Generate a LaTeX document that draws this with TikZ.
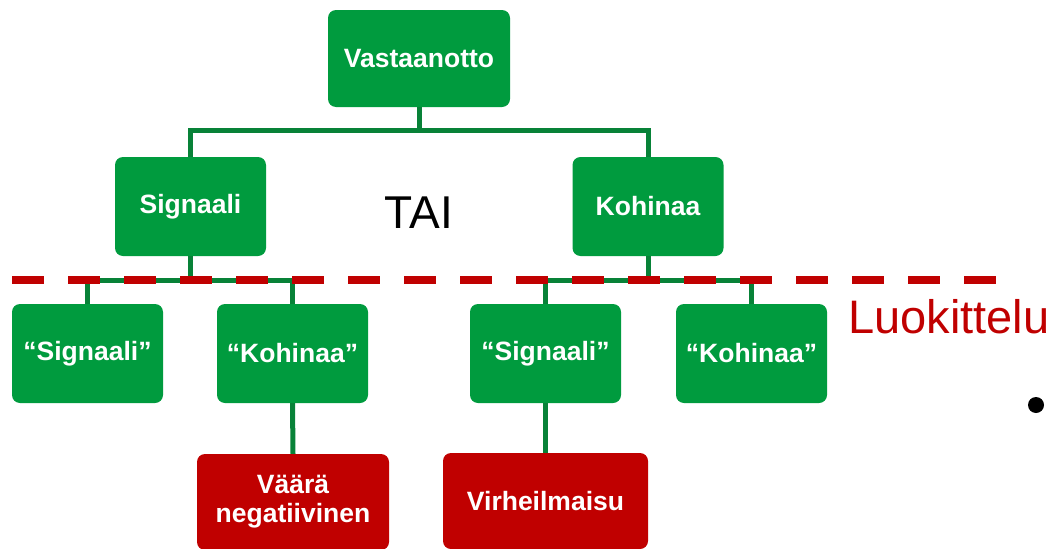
\documentclass[tikz,border=0pt]{standalone}
\usepackage{fontspec}
\setmainfont{Liberation Sans}
\usepackage{xcolor}
\usepackage{tikz}
\usetikzlibrary{positioning,calc}
\definecolor{boxgreen}{RGB}{0, 155, 62}
\definecolor{linegreen}{RGB}{8, 130, 56}
\definecolor{alarmred}{RGB}{192, 0, 0}

\begin{document}
\begin{tikzpicture}[x=1pt,y=-1pt,
    box/.style={fill=boxgreen,rounded corners=8pt,text=white,align=center,
        font=\bfseries\fontsize{26.5}{29}\selectfont,inner sep=0pt},
    errbox/.style={box,fill=alarmred},
    conn/.style={linegreen,line width=5pt}]
    \useasboundingbox (0,0) rectangle (1053,549);

    % Top level
    \node[box,minimum width=182pt,minimum height=97pt] (vast) at (419,58.5) {Vastaanotto};

    % True state
    \node[box,minimum width=151pt,minimum height=99pt] (signaali) at (190.5,206.5) {Signaali};
    \node[box,minimum width=151pt,minimum height=99pt] (kohinaa) at (648,206.5) {Kohinaa};
    \node[font=\fontsize{46}{50}\selectfont,anchor=base] (tai) at (419,228) {TAI};

    % Classification
    \node[box,minimum width=151pt,minimum height=99pt] (ss) at (87.5,353.5) {“Signaali”};
    \node[box,minimum width=151pt,minimum height=99pt] (sk) at (292.5,353.5) {“Kohinaa”};
    \node[box,minimum width=151pt,minimum height=99pt] (ks) at (545.5,353.5) {“Signaali”};
    \node[box,minimum width=151pt,minimum height=99pt] (kk) at (751.5,353.5) {“Kohinaa”};

    % Errors
    \node[errbox,minimum width=192pt,minimum height=96pt] (vn) at (293,502) {Väärä\\negatiivinen};
    \node[errbox,minimum width=205pt,minimum height=96pt] (vh) at (545.5,501) {Virheilmaisu};

    % Connectors
    \draw[conn] (vast.south) -- ++(0,23) coordinate (v1);
    \draw[conn] (v1) -| (signaali.north);
    \draw[conn] (v1) -| (kohinaa.north);
    \draw[conn] (signaali.south) -- ++(0,24) coordinate (s1);
    \draw[conn] (s1) -| (ss.north);
    \draw[conn] (s1) -| (sk.north);
    \draw[conn] (kohinaa.south) -- ++(0,24) coordinate (k1);
    \draw[conn] (k1) -| (ks.north);
    \draw[conn] (k1) -| (kk.north);
    \draw[conn] (sk.south) -- (vn.north);
    \draw[conn] (ks.south) -- (vh.north);

    % Classification threshold
    \coordinate (raja1) at (12,280);
    \coordinate (raja2) at (997,280);
    \draw[alarmred,line width=8pt,dash pattern=on 32pt off 24pt] (raja1) -- (raja2);
    \node[alarmred,font=\fontsize{47}{50}\selectfont,anchor=base west,inner sep=0pt] (luok) at (848,333) {Luokittelu};

    \fill (1036,405) circle (8pt);
\end{tikzpicture}
\end{document}
